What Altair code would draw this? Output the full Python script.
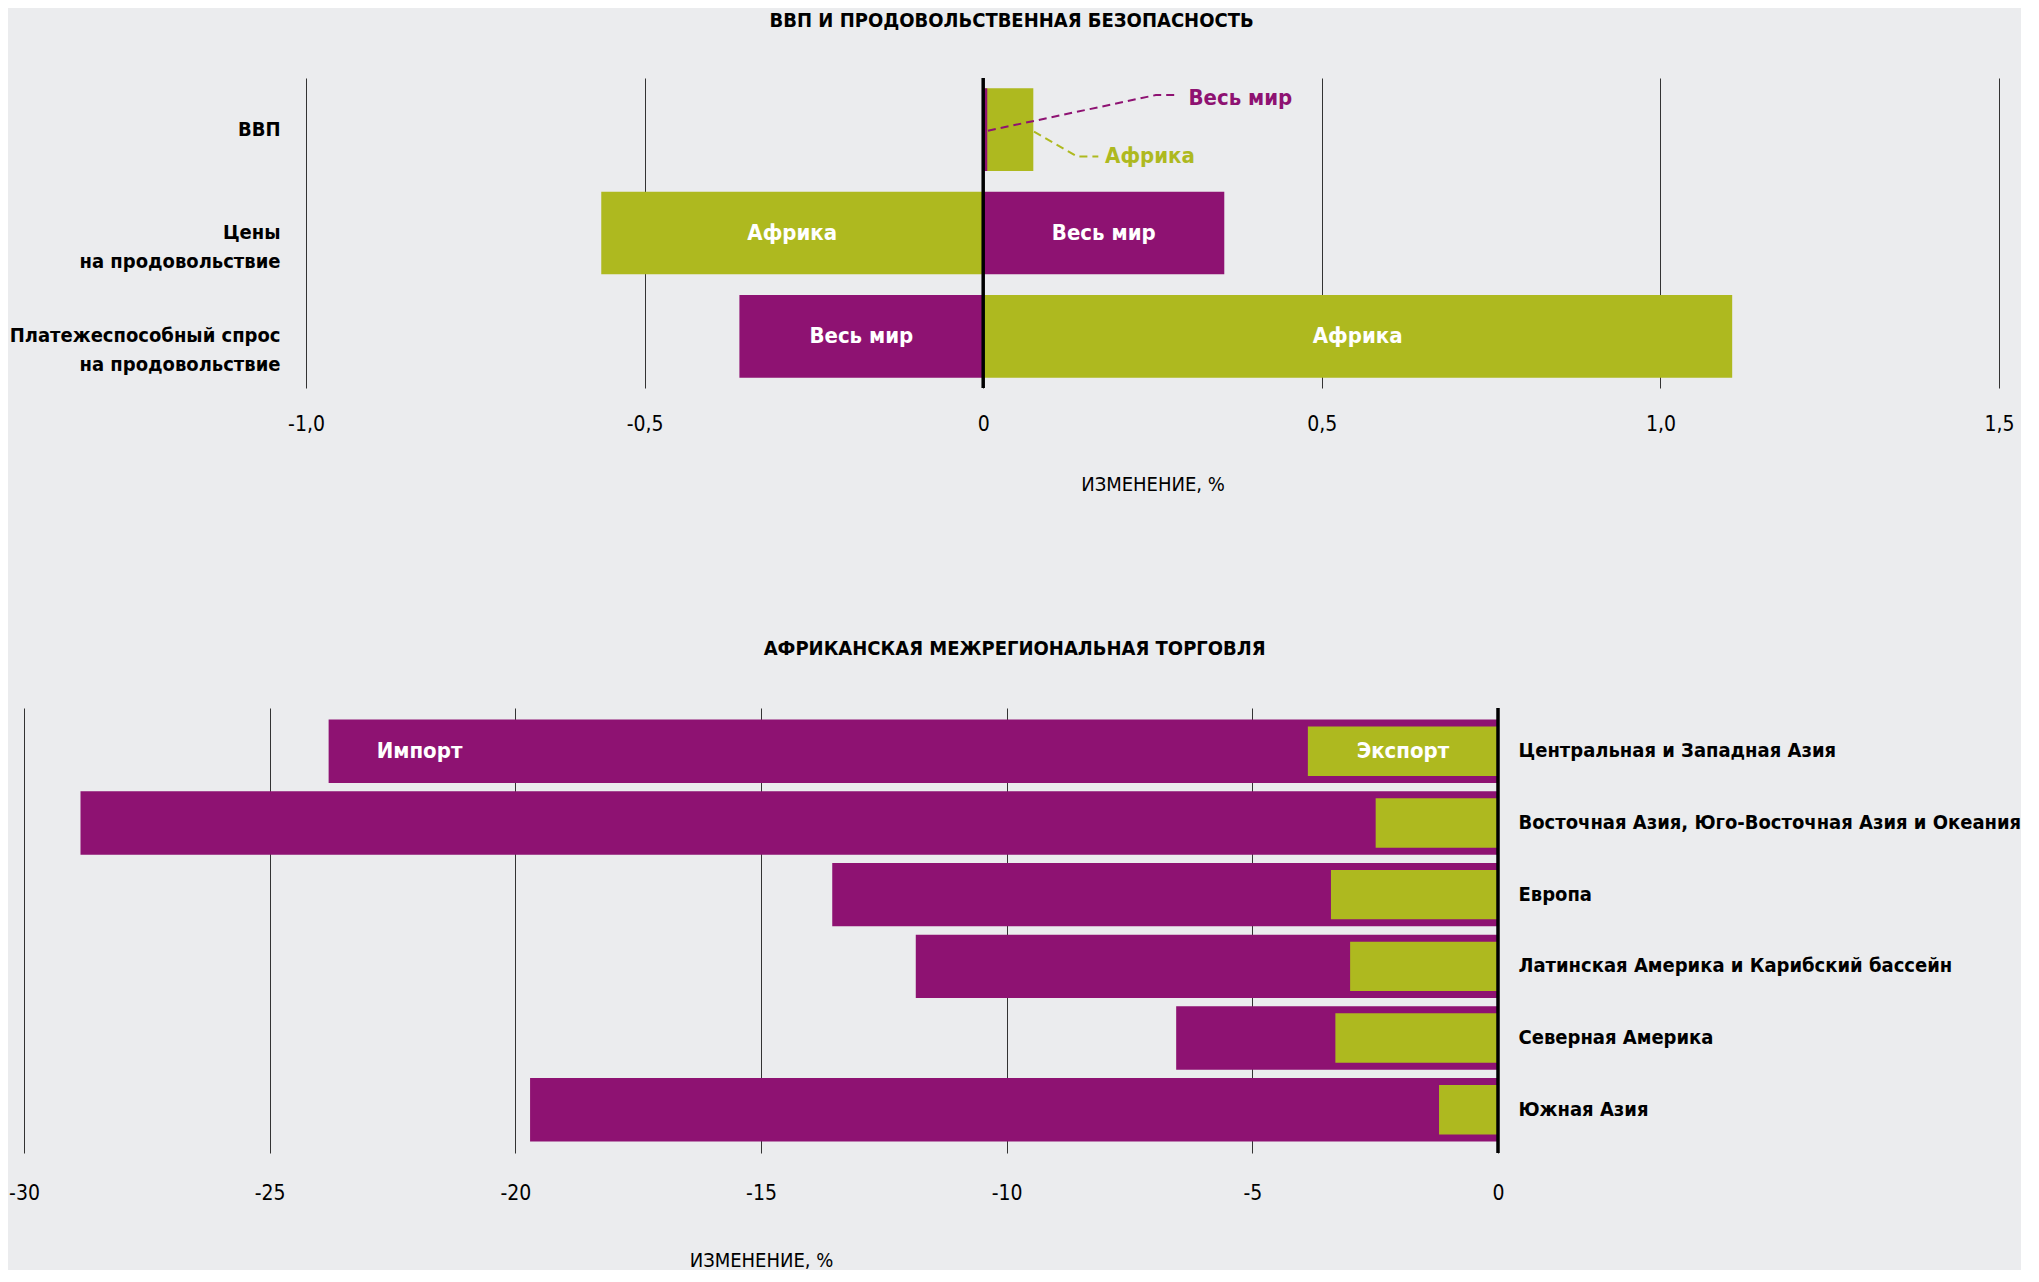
import altair as alt
import pandas as pd

FONT = "DejaVu Sans Condensed, DejaVu Sans, sans-serif"
PURPLE = "#8E1272"
GREEN = "#AEB91F"
BG = "#EBECEE"
GRID = "#333333"

# ---------------- top chart data ----------------
top_categories = ["ВВП", "Цены\nна продовольствие", "Платежеспособный спрос\nна продовольствие"]
africa_values = [0.074, -0.564, 1.106]
world_values = [0.006, 0.356, -0.36]
inside_label = [False, True, True]

# callout (ВВП row): x in %, y in row units (0 = top of first row)
world_line_x = [0.007, 0.255, 0.284]
world_line_y = [0.51, 0.165, 0.165]
africa_line_x = [0.075, 0.139, 0.170]
africa_line_y = [0.52, 0.76, 0.76]
callout_text = ["Весь мир", "Африка"]
callout_x = [0.303, 0.180]
callout_y = [0.19, 0.75]

top_ticks = [-1.0, -0.5, 0.0, 0.5, 1.0, 1.5]

# ---------------- bottom chart data ----------------
regions = [
    "Центральная и Западная Азия",
    "Восточная Азия, Юго-Восточная Азия и Океания",
    "Европа",
    "Латинская Америка и Карибский бассейн",
    "Северная Америка",
    "Южная Азия",
]
imports = [-23.8, -28.85, -13.55, -11.85, -6.55, -19.7]
exports = [-3.87, -2.49, -3.40, -3.01, -3.31, -1.20]
import_label = "Импорт"
import_label_x = -21.95
export_label = "Экспорт"
bottom_ticks = [-30, -25, -20, -15, -10, -5, 0]

# ---------------- layout constants (pixels) ----------------
TOP_W, TOP_H = 1975, 310
TOP_LEFT_GAP = 282          # room inside the top plot for the category labels
BOT_W, BOT_H = 1474, 445
unit_top = (TOP_W - TOP_LEFT_GAP) / (top_ticks[-1] - top_ticks[0])
top_domain = [top_ticks[0] - TOP_LEFT_GAP / unit_top, top_ticks[-1]]

# ---------------- build tables ----------------
rows = []
for c, a, w, lab in zip(top_categories, africa_values, world_values, inside_label):
    rows.append({"cat": c, "series": "Африка", "value": a, "lab": lab})
    rows.append({"cat": c, "series": "Весь мир", "value": w, "lab": lab})
top_df = pd.DataFrame(rows)

line_rows = []
for i, (x, y) in enumerate(zip(world_line_x, world_line_y)):
    line_rows.append({"series": "Весь мир", "x": x, "y": y, "o": i})
for i, (x, y) in enumerate(zip(africa_line_x, africa_line_y)):
    line_rows.append({"series": "Африка", "x": x, "y": y, "o": i})
line_df = pd.DataFrame(line_rows)
callout_df = pd.DataFrame({"series": callout_text, "x": callout_x, "y": callout_y})
zero_df = pd.DataFrame({"x": [0]})

color_scale = alt.Scale(domain=["Весь мир", "Африка"], range=[PURPLE, GREEN])

top_x = alt.X(
    "value:Q",
    scale=alt.Scale(domain=top_domain, nice=False, zero=False),
    axis=alt.Axis(
        values=top_ticks,
        labelExpr="datum.value == 0 ? '0' : replace(replace(format(datum.value, '.1f'), '.', ','), '\u2212', '-')",
        grid=True, gridColor=GRID, gridWidth=1, gridOpacity=1, ticks=False, domain=False,
        title="ИЗМЕНЕНИЕ, %", titleFontWeight="normal", titleFontSize=20, titleFont=FONT,
        titleColor="black", labelFont=FONT, labelFontSize=21, labelColor="black",
        labelPadding=25, titlePadding=40, labelFlush=False,
        titleX=TOP_LEFT_GAP + (TOP_W - TOP_LEFT_GAP) / 2,
    ),
)
top_y = alt.Y(
    "cat:N", sort=top_categories,
    scale=alt.Scale(paddingInner=0.2, paddingOuter=0.1),
    axis=alt.Axis(
        title=None, labelExpr="split(datum.label, '\\n')", labelFont=FONT,
        labelFontSize=20, labelFontWeight="bold", labelColor="black",
        offset=-TOP_LEFT_GAP, labelPadding=26, labelLineHeight=29,
        ticks=False, domain=False, grid=False, labelLimit=500,
    ),
)

base_top = alt.Chart(top_df)
bars_africa = base_top.transform_filter("datum.series == 'Африка'").mark_bar().encode(
    x=top_x, y=top_y, color=alt.Color("series:N", scale=color_scale, legend=None)
)
bars_world = base_top.transform_filter("datum.series == 'Весь мир'").mark_bar().encode(
    x=alt.X("value:Q"), y=alt.Y("cat:N", sort=top_categories),
    color=alt.Color("series:N", scale=color_scale, legend=None),
)
bar_text = base_top.transform_filter("datum.lab").transform_calculate(
    mid="datum.value / 2"
).mark_text(color="white", font=FONT, fontSize=22, fontWeight="bold", baseline="middle").encode(
    x=alt.X("mid:Q"), y=alt.Y("cat:N", sort=top_categories), text="series:N"
)
zero_top = alt.Chart(zero_df).mark_rule(color="black", strokeWidth=3.5).encode(x="x:Q")

ann_y = alt.Y("y:Q", scale=alt.Scale(domain=[0, 3], reverse=True, nice=False, zero=False), axis=None)
ann_lines = alt.Chart(line_df).mark_line(strokeDash=[8, 5], strokeWidth=2).encode(
    x="x:Q", y=ann_y, order="o:Q",
    color=alt.Color("series:N", scale=color_scale, legend=None),
)
ann_text = alt.Chart(callout_df).mark_text(
    align="left", baseline="middle", font=FONT, fontSize=22, fontWeight="bold"
).encode(
    x="x:Q", y=ann_y, text="series:N",
    color=alt.Color("series:N", scale=color_scale, legend=None),
)

top_main = alt.layer(bars_africa, bars_world, bar_text, zero_top)
top_ann = alt.layer(ann_lines, ann_text)
top = alt.layer(top_main, top_ann).resolve_scale(y="independent").properties(
    width=TOP_W, height=TOP_H,
    title=alt.TitleParams(
        "ВВП И ПРОДОВОЛЬСТВЕННАЯ БЕЗОПАСНОСТЬ", font=FONT, fontSize=20, fontWeight="bold",
        color="black", anchor="middle", frame="bounds", offset=45,
    ),
)

# ---------------- bottom chart ----------------
bot_df = pd.DataFrame({"region": regions, "imp": imports, "exp": exports})
label_df = pd.DataFrame({
    "region": [regions[0], regions[0]],
    "x": [import_label_x, exports[0] / 2],
    "t": [import_label, export_label],
})

bot_x = alt.X(
    "imp:Q",
    scale=alt.Scale(domain=[bottom_ticks[0], bottom_ticks[-1]], nice=False),
    axis=alt.Axis(
        values=bottom_ticks, labelExpr="'' + datum.value",
        grid=True, gridColor=GRID, gridWidth=1, gridOpacity=1, ticks=False, domain=False,
        title="ИЗМЕНЕНИЕ, %", titleFontWeight="normal", titleFontSize=20, titleFont=FONT,
        titleColor="black", labelFont=FONT, labelFontSize=21, labelColor="black",
        labelPadding=29, titlePadding=47, labelFlush=False,
    ),
)
bot_y = alt.Y(
    "region:N", sort=regions,
    scale=alt.Scale(paddingInner=0.116, paddingOuter=0.161),
    axis=alt.Axis(
        orient="right", title=None, labelFont=FONT, labelFontSize=20, labelFontWeight="bold",
        labelColor="black", labelAlign="left", labelPadding=20, ticks=False, domain=False,
        grid=False, labelLimit=700,
    ),
)
imp_bars = alt.Chart(bot_df).mark_bar(color=PURPLE).encode(x=bot_x, y=bot_y)
exp_bars = alt.Chart(bot_df).mark_bar(color=GREEN, height=alt.RelativeBandSize(0.78)).encode(
    x=alt.X("exp:Q"), y=alt.Y("region:N", sort=regions)
)
bot_text = alt.Chart(label_df).mark_text(
    color="white", font=FONT, fontSize=22, fontWeight="bold", baseline="middle"
).encode(x=alt.X("x:Q"), y=alt.Y("region:N", sort=regions), text="t:N")
zero_bot = alt.Chart(zero_df).mark_rule(color="black", strokeWidth=3.5).encode(x="x:Q")

bottom = alt.layer(imp_bars, exp_bars, bot_text, zero_bot).properties(
    width=BOT_W, height=BOT_H,
    title=alt.TitleParams(
        "АФРИКАНСКАЯ МЕЖРЕГИОНАЛЬНАЯ ТОРГОВЛЯ", font=FONT, fontSize=20, fontWeight="bold",
        color="black", anchor="middle", frame="bounds", offset=47,
    ),
)

chart = alt.vconcat(top, bottom, spacing=145).properties(
    padding={"top": 3, "left": 0, "right": 0, "bottom": 0}
).configure(background=BG).configure_view(stroke=None)

chart.save("out.html", embed_options={"renderer": "svg", "actions": False})
